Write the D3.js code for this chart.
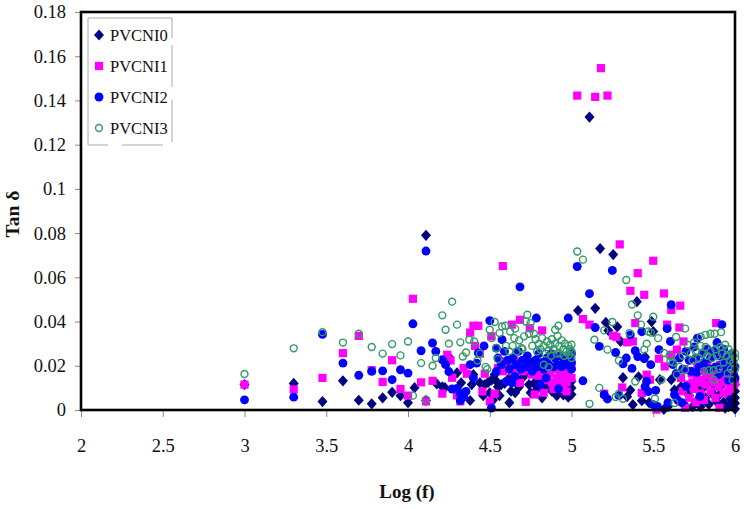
<!DOCTYPE html>
<html>
<head>
<meta charset="utf-8">
<script src="https://cdn.jsdelivr.net/npm/d3@7"></script>
<style>
body { margin: 0; background: #fff; }
text { font-family: "Liberation Serif", serif; fill: #111; }
</style>
</head>
<body>
<script>
// tick labels
var xTicks = [2, 2.5, 3, 3.5, 4, 4.5, 5, 5.5, 6];
var yTicks = [0, 0.02, 0.04, 0.06, 0.08, 0.1, 0.12, 0.14, 0.16, 0.18];
var names = ["PVCNI0", "PVCNI1", "PVCNI2", "PVCNI3"];

// [log f, tan d]
var pvcni0 = [[3,.0115],[3.301,.012],[3.477,.0038],[3.602,.0132],[3.699,.0044],[3.778,.0028],[3.845,.0055],[3.903,.008],[3.954,.0065],
[4,.0033],[4.04,.0101],[4.11,.0043],[4.11,.079],[4.176,.0118],[4.226,.0101],[4.21,.0105],[4.25,.024],[4.3,.0168],[4.325,.0123],[4.4,.016],[4.39,.0115],[4.38,.0043],
[4.44,.0123],[4.47,.0115],[4.49,.0125],[4.51,.0135],[4.53,.016],[4.46,.0065],[4.5,.0078],[4.52,.0045],[4.56,.0065],[4.57,.0115],[4.59,.012],[4.62,.0145],[4.62,.0033],[4.63,.0085],[4.655,.0078],[4.55,.0105],[4.535,.0135],
[4.66,.0125],[4.68,.0105],[4.7,.0145],[4.72,.0165],[4.74,.0115],[4.75,.0078],[4.77,.012],[4.79,.0095],[4.81,.0135],[4.82,.0055],[4.84,.0105],[4.86,.0125],[4.88,.0085],[4.9,.0115],[4.91,.0065],[4.93,.0095],[4.94,.0135],[4.95,.0068],[4.965,.0105],[4.98,.0058],[4.99,.0125],[5,.013],[5,.01],[5,.007],
[5.04,.045],[5.11,.1325],[5.145,.046],[5.175,.073],[5.21,.0396],[5.225,.036],[5.255,.0703],[5.28,.0376],[5.3,.031],[5.315,.0146],[5.34,.006],[5.36,.009],[5.375,.0024],[5.4,.049],[5.41,.015],[5.43,.0042],[5.45,.024],[5.475,.0033],[5.49,.04],[5.5,.0355],[5.54,.0137],[5.565,.0003],[5.61,.0137],
[5.59,.0015],[5.63,.009],[5.65,.0045],[5.67,.0105],[5.69,.0025],[5.7,.0085],[5.72,.0065],[5.74,.0015],[5.76,.011],[5.77,.0045],[5.79,.0015],[5.8,.0095],[5.82,.0055],[5.83,.012],[5.84,.0025],[5.86,.0075],[5.88,.0105],[5.89,.0035],[5.9,.0065],[5.92,.0115],[5.93,.0035],[5.94,.0008],[5.95,.0075],[5.96,.0015],[5.97,.0052],[5.98,.0105],[5.985,.0025],[5.99,.0078],[6,.0005],[6,.003],[6,.0055],[6,.0085],[6,.0115]];

var pvcni1 = [[3,.0115],[3.301,.0093],[3.477,.0145],[3.602,.0257],[3.699,.0335],[3.778,.018],[3.845,.0127],[3.903,.0225],[3.954,.0095],[4,.0065],
[4.03,.0503],[4.08,.0125],[4.15,.0132],[4.11,.0039],[4.21,.0074],[4.24,.025],[4.26,.0224],[4.27,.0146],[4.34,.019],[4.36,.0164],[4.3,.0066],[4.32,.0039],[4.38,.035],[4.4,.0381],[4.43,.0381],[4.41,.029],[4.44,.0255],[4.47,.0164],[4.455,.0084],[4.5,.0039],[4.53,.0074],
[4.58,.0651],[4.51,.0333],[4.595,.022],[4.635,.0386],[4.685,.0408],[4.685,.0123],[4.72,.0037],[4.755,.016],[4.775,.007],[4.83,.0078],[4.745,.037],[4.82,.036],[4.55,.019],[4.57,.0215],[4.62,.0205],[4.65,.0225],[4.68,.0195],[4.71,.021],[4.73,.0185],[4.77,.0165],[4.8,.0155],[4.84,.0175],
[4.58,.0175],[4.61,.0195],[4.64,.0175],[4.67,.0215],[4.7,.0175],[4.75,.0205],[4.78,.0185],[4.81,.0195],[4.85,.0135],[4.86,.0195],
[4.87,.0165],[4.88,.0125],[4.89,.0095],[4.9,.0185],[4.91,.0145],[4.92,.011],[4.93,.0175],[4.94,.0125],[4.95,.0195],[4.95,.0095],[4.96,.015],[4.97,.0084],[4.97,.0125],[4.98,.0165],[5,.0145],[5,.0195],
[5.035,.1422],[5.145,.1416],[5.18,.1546],[5.22,.1422],[5.295,.0749],[5.5,.0675],[5.405,.0619],[5.36,.0539],[5.445,.0521],[5.565,.0527],[5.665,.0472],[5.61,.0453],[5.07,.0411],[5.11,.0386],[5.255,.0336],[5.275,.033],[5.34,.0306],[5.375,.031],[5.39,.0393],[5.585,.0386],[5.66,.0373],[5.535,.0232],[5.61,.025],[5.645,.0273],[5.685,.031],[5.57,.0197],[5.46,.016],[5.48,.0137],[5.31,.0102],[5.43,.0077],[5.2,.0074],[5.885,.0393],[5.905,.001],[5.695,.001],[5.52,.0002],
[5.67,.0145],[5.68,.0085],[5.69,.0185],[5.71,.0115],[5.72,.0055],[5.735,.0165],[5.75,.0095],[5.76,.0035],[5.77,.0195],[5.78,.0135],[5.79,.0075],[5.8,.0175],[5.81,.0045],[5.82,.0115],[5.83,.0205],[5.84,.0155],[5.85,.0085],[5.86,.0185],[5.87,.0125],[5.88,.0055],[5.89,.0165],[5.9,.0105],[5.91,.0205],[5.92,.0145],[5.93,.0075],[5.94,.0185],[5.95,.0125],[5.96,.0165],[5.97,.0095],[5.98,.0145],[5.99,.0115],[6,.0125],
[5.74,.0125],[5.765,.0155],[5.795,.0125],[5.825,.0155],[5.855,.0135],[5.875,.0165],[5.905,.0155],[5.935,.0135],[5.955,.0085]];

var pvcni2 = [[3,.0046],[3.301,.0058],[3.477,.0342],[3.602,.0212],[3.699,.0157],[3.778,.0175],[3.845,.0177],[3.903,.0137],[3.954,.0182],[4,.0167],
[4.03,.039],[4.11,.0719],[4.08,.0268],[4.15,.0303],[4.17,.0265],[4.21,.0227],[4.23,.0205],[4.25,.0174],[4.27,.0095],[4.3,.0098],[4.32,.0074],[4.34,.0061],[4.32,.0043],[4.355,.0084],[4.4,.0145],[4.38,.0205],[4.42,.0212],[4.43,.0258],[4.465,.029],[4.5,.0404],[4.51,.0009],[4.54,.0174],[4.575,.0318],[4.54,.028],[4.685,.0557],[4.6,.0129],[4.635,.0123],[4.655,.0152],[4.785,.0416],[4.98,.0416],[5.035,.0649],[4.81,.0114],[4.845,.0145],[4.92,.0096],
[4.55,.0235],[4.57,.0205],[4.59,.0265],[4.61,.0225],[4.62,.0185],[4.64,.0235],[4.66,.0205],[4.675,.0265],[4.69,.0185],[4.7,.0225],[4.72,.0195],[4.73,.0245],[4.75,.0215],[4.76,.0175],[4.78,.0225],[4.79,.0195],[4.8,.0255],[4.82,.0215],[4.83,.0185],[4.85,.0235],[4.86,.0205],[4.875,.0255],[4.89,.0195],[4.9,.0235],[4.915,.0205],[4.93,.0245],[4.94,.0195],[4.955,.0225],[4.97,.0205],[4.985,.0235],[5,.0215],[5,.0185],[5,.0255],
[5.25,.0631],[5.11,.0526],[5.145,.0373],[5.17,.0288],[5.27,.026],[5.36,.034],[5.43,.0354],[5.39,.0268],[5.405,.0242],[5.335,.0235],[5.315,.0209],[5.37,.0188],[5.485,.0205],[5.445,.0232],[5.585,.0368],[5.61,.0476],[5.535,.0273],[5.92,.0386],[5.605,.031],[5.07,.0132],[5.2,.0069],[5.22,.005],[5.29,.0065],[5.515,.0089],[5.46,.013],[5.45,.0106],[5.47,.0083],[5.5,.0024],[5.525,.0016],[5.59,.0033],[5.63,.0069],[5.675,.0033],[5.65,.0045],[5.7,.0107],[5.785,.0061],[5.765,.017],[5.9,.016],
[5.62,.0205],[5.64,.0165],[5.66,.0235],[5.68,.0185],[5.7,.0265],[5.72,.0225],[5.73,.0175],[5.75,.0285],[5.76,.0235],[5.77,.0325],[5.78,.0195],[5.8,.0255],[5.81,.0215],[5.83,.0275],[5.84,.0185],[5.85,.0235],[5.87,.0265],[5.88,.0195],[5.89,.0305],[5.91,.0245],[5.92,.0205],[5.93,.0275],[5.94,.0175],[5.95,.0235],[5.96,.0135],[5.97,.0205],[5.98,.0255],[5.99,.0165],[6,.0195],[6,.0145]];

var pvcni3 = [[3,.0163],[3.301,.0279],[3.477,.0352],[3.602,.0305],[3.699,.0345],[3.778,.0285],[3.845,.0255],[3.903,.0298],[3.954,.0247],[4,.031],
[4.03,.0065],[4.08,.0212],[4.11,.0047],[4.15,.02],[4.17,.0235],[4.21,.0428],[4.23,.0363],[4.25,.03],[4.27,.049],[4.3,.0386],[4.32,.0306],[4.335,.0242],[4.355,.026],[4.375,.0318],[4.405,.031],[4.425,.0224],[4.44,.0255],[4.475,.0195],[4.485,.0185],[4.5,.0363],[4.53,.0398],[4.51,.0325],[4.54,.028],[4.55,.023],[4.575,.0378],[4.595,.0381],[4.56,.0348],[4.625,.0355],[4.655,.0368],[4.65,.0325],[4.665,.0265],[4.695,.028],[4.73,.0431],[4.72,.04],[4.75,.0393],[4.71,.0333],[4.74,.0345],[4.77,.0345],[4.9,.0363],[4.92,.0381],[4.83,.0205],[4.86,.0194],
[4.6,.029],[4.62,.0265],[4.64,.029],[4.68,.0315],[4.7,.0275],[4.76,.029],[4.78,.032],[4.79,.0265],[4.8,.03],[4.81,.0275],[4.82,.0325],[4.83,.029],[4.84,.0255],[4.85,.031],[4.86,.027],[4.87,.0295],[4.875,.0245],[4.88,.032],[4.89,.0275],[4.9,.03],[4.91,.0255],[4.915,.0335],[4.925,.029],[4.93,.0255],[4.94,.0315],[4.95,.0275],[4.955,.0245],[4.96,.03],[4.97,.0265],[4.98,.029],[4.985,.025],[4.99,.0275],[5,.0295],[5,.0265],[5,.0235],
[5.035,.0717],[5.07,.068],[5.335,.0588],[5.37,.0477],[5.14,.0318],[5.2,.036],[5.25,.0398],[5.22,.0273],[5.29,.0224],[5.355,.0348],[5.405,.0428],[5.425,.0386],[5.5,.0422],[5.47,.0355],[5.485,.035],[5.53,.0325],[5.46,.03],[5.445,.0273],[5.39,.0129],[5.17,.01],[5.27,.0059],[5.315,.0051],[5.29,.0074],[5.11,.0028],[5.51,.0051],[5.55,.0137],[5.63,.0032],[5.695,.0368],[5.64,.033],[5.565,.0258],[5.605,.022],[5.645,.016],[5.695,.0182],[5.87,.0137],
[5.79,.0332],[5.82,.034],[5.85,.0345],[5.875,.0345],[5.915,.0352],[5.6,.0245],[5.62,.0215],[5.66,.0195],[5.68,.0245],[5.71,.0295],[5.73,.0255],[5.74,.0225],[5.75,.0305],[5.76,.0265],[5.78,.0235],[5.79,.029],[5.8,.0255],[5.81,.0175],[5.82,.0285],[5.83,.0245],[5.84,.018],[5.85,.0265],[5.86,.0235],[5.87,.018],[5.88,.0275],[5.89,.0245],[5.9,.0185],[5.91,.0285],[5.92,.0255],[5.93,.0215],[5.94,.0295],[5.95,.0245],[5.955,.0165],[5.96,.0275],[5.97,.0225],[5.975,.0185],[5.98,.0255],[5.985,.0135],[5.99,.0215],[6,.0235],[6,.0185],[6,.0255]];

var colors = ["#000080", "#ff00ff", "#0000ff", "#339966"];

var width = 744, height = 509;
var left = 81, right = 735, top0 = 12, bottom = 410;

var svg = d3.select("body").append("svg")
    .attr("width", width)
    .attr("height", height)
    .style("display", "block");

var x = d3.scaleLinear().domain([2, 6]).range([left, right]);
var y = d3.scaleLinear().domain([0, 0.18]).range([bottom, top0]);

// axes, thin grey ticks
var xAxis = svg.append("g")
    .attr("transform", "translate(0," + bottom + ")")
    .call(d3.axisBottom(x).tickValues(xTicks).tickSize(7).tickPadding(22).tickFormat(function(d){ return d; }));
var yAxis = svg.append("g")
    .attr("transform", "translate(" + left + ",0)")
    .call(d3.axisLeft(y).tickValues(yTicks).tickSize(6).tickPadding(9).tickFormat(function(d){ return d; }));
svg.selectAll(".domain").remove();
svg.selectAll(".tick line").attr("stroke", "#888");
svg.selectAll(".tick text").style("font-family", "Liberation Serif").style("font-size", "18.5px").attr("fill", "#111");

// marker drawing, one symbol per series
function drawSeries(data, i) {
    var g = svg.append("g").attr("class", "series" + i);
    var sel = g.selectAll("path").data(data).enter().append("path")
        .attr("transform", function(d){ return "translate(" + x(d[0]) + "," + y(d[1]) + ")"; });
    styleMarker(sel, i);
}

function styleMarker(sel, i) {
    var shape = [
        "M0,-5.6L5,0L0,5.6L-5,0Z",
        "M-4.1,-4.1H4.1V4.1H-4.1Z",
        d3.symbol().type(d3.symbolCircle).size(62)(),
        d3.symbol().type(d3.symbolCircle).size(38)()
    ][i];
    sel.attr("d", shape)
        .attr("fill", i == 3 ? "none" : colors[i])
        .attr("stroke", i == 3 ? colors[i] : "none")
        .attr("stroke-width", i == 3 ? 1.4 : 0);
}

[pvcni0, pvcni1, pvcni2, pvcni3].forEach(drawSeries);

// plot frame
svg.append("rect")
    .attr("x", left).attr("y", top0)
    .attr("width", right - left).attr("height", bottom - top0)
    .attr("fill", "none").attr("stroke", "#000").attr("stroke-width", 2.6);

// legend, frame is broken in places in the source
var legend = svg.append("g").attr("transform", "translate(88,18)");
legend.append("rect")
    .attr("width", 84).attr("height", 127)
    .attr("fill", "none").attr("stroke", "#aaa").attr("stroke-width", 1)
    .attr("stroke-dasharray", "104 7 42 13 42 12 41 14 147");

names.forEach(function(n, i) {
    var row = legend.append("g").attr("transform", "translate(11," + (17 + i * 31) + ")");
    styleMarker(row.append("path"), i);
    row.append("text").attr("x", 11).attr("y", 6).style("font-size", "16.5px").text(n);
});

svg.append("text")
    .attr("x", 407).attr("y", 498)
    .attr("text-anchor", "middle")
    .style("font-size", "19px").style("font-weight", "bold")
    .text("Log (f)");

svg.append("text")
    .attr("transform", "translate(19,214) rotate(-90)")
    .attr("text-anchor", "middle")
    .style("font-size", "19.5px").style("font-weight", "bold")
    .text("Tan δ");
</script>
</body>
</html>
